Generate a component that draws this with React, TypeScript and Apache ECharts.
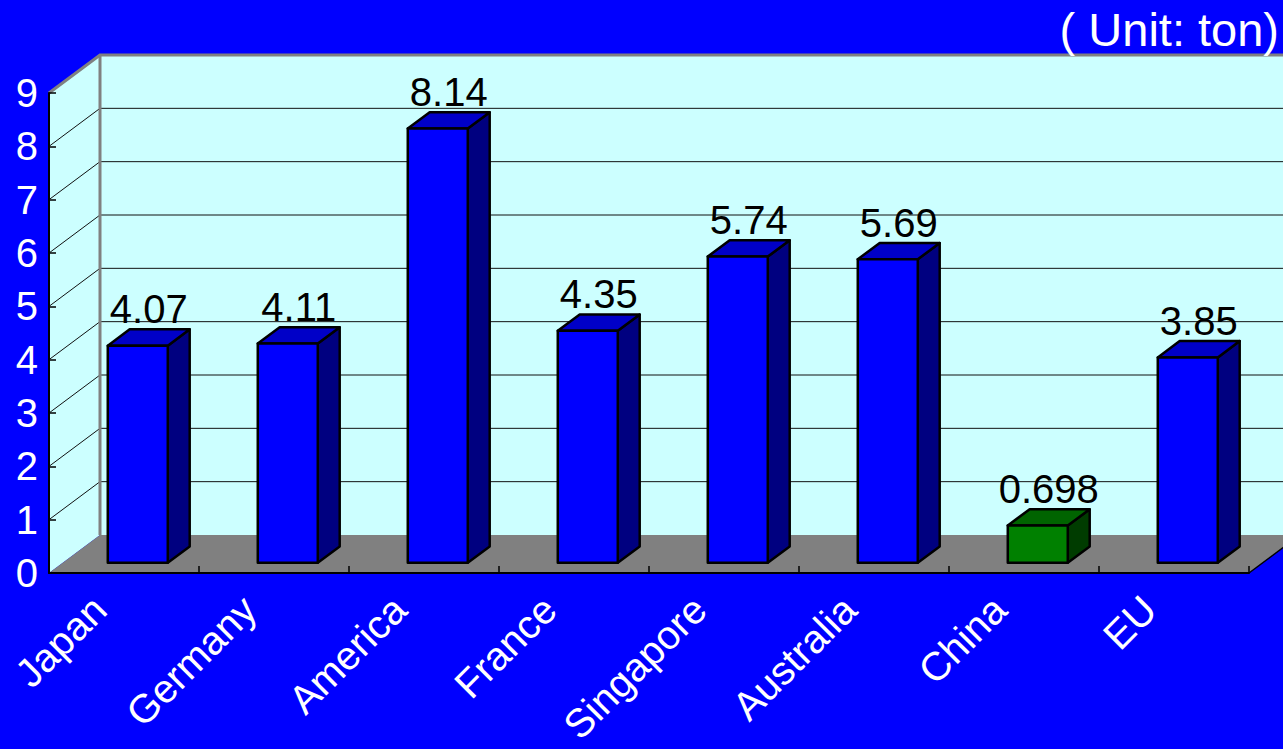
import React, { useEffect, useRef } from "react";
import * as echarts from "echarts";

const categories = ["Japan", "Germany", "America", "France", "Singapore", "Australia", "China", "EU"];
const values = [4.07, 4.11, 8.14, 4.35, 5.74, 5.69, 0.698, 3.85];
const yTicks = [0, 1, 2, 3, 4, 5, 6, 7, 8, 9];
const unitLabel = "( Unit: ton)";
const highlighted = "China";

const DX = 51;
const DY = -38;
const F0 = 0.27;
const F1 = 0.7;
const FONT = "'Liberation Sans', Arial, sans-serif";

export default function App() {
  const ref = useRef<HTMLDivElement>(null);
  useEffect(() => {
    const chart = echarts.init(ref.current!, null, { renderer: "svg" });
    const yMin = yTicks[0];
    const yMax = yTicks[yTicks.length - 1];

    const wallRender = (params: any, api: any) => {
      const bw = api.size([1, 0])[0];
      const first = api.coord([0, yMin]);
      const last = api.coord([categories.length - 1, yMin]);
      const x0 = first[0] - bw / 2;
      const x1 = last[0] + bw / 2;
      const y0 = first[1];
      const yT = api.coord([0, yMax])[1];
      const children: any[] = [];
      children.push({
        type: "polygon",
        shape: { points: [[x0 + DX, y0 + DY], [x1 + DX, y0 + DY], [x1 + DX, yT + DY], [x0 + DX, yT + DY]] },
        style: { fill: "#CCFFFF" },
      });
      children.push({
        type: "polygon",
        shape: { points: [[x0, y0], [x0 + DX, y0 + DY], [x0 + DX, yT + DY], [x0, yT]] },
        style: { fill: "#CCFFFF" },
      });
      children.push({
        type: "polygon",
        shape: { points: [[x0, y0], [x1, y0], [x1 + DX, y0 + DY], [x0 + DX, y0 + DY]] },
        style: { fill: "#808080" },
      });
      children.push({
        type: "line",
        shape: { x1: x1, y1: y0, x2: x1 + DX, y2: y0 + DY },
        style: { stroke: "#000", lineWidth: 1.5 },
      });
      yTicks.forEach((t) => {
        if (t === yMin || t === yMax) return;
        const y = api.coord([0, t])[1];
        children.push({
          type: "polyline",
          shape: { points: [[x0, y], [x0 + DX, y + DY], [x1 + DX, y + DY]] },
          style: { stroke: "#111", lineWidth: 1, fill: null },
        });
      });
      children.push({
        type: "polyline",
        shape: { points: [[x0, yT], [x0 + DX, yT + DY], [x1 + DX, yT + DY]] },
        style: { stroke: "#808080", lineWidth: 3, fill: null },
      });
      children.push({
        type: "line",
        shape: { x1: x0 + DX, y1: y0 + DY, x2: x0 + DX, y2: yT + DY },
        style: { stroke: "#808080", lineWidth: 3 },
      });
      return { type: "group", children };
    };

    const barRender = (params: any, api: any) => {
      const i = params.dataIndex;
      const v = values[i];
      const bw = api.size([1, 0])[0];
      const base = api.coord([i, 0]);
      const top = api.coord([i, v]);
      const w = bw * 0.4;
      const xL = base[0] - w / 2 + DX * F0;
      const xR = xL + w;
      const yB = base[1] + DY * F0;
      const yT = top[1] + DY * F0;
      const ox = DX * (F1 - F0);
      const oy = DY * (F1 - F0);
      const hl = categories[i] === highlighted;
      const pal = hl ? ["#008000", "#006400", "#003C00"] : ["#0000FF", "#0000C8", "#000080"];
      const st = { stroke: "#000", lineWidth: 2.5, lineJoin: "round" };
      return {
        type: "group",
        children: [
          {
            type: "polygon",
            shape: { points: [[xR, yB], [xR + ox, yB + oy], [xR + ox, yT + oy], [xR, yT]] },
            style: { ...st, fill: pal[2] },
          },
          {
            type: "polygon",
            shape: { points: [[xL, yT], [xR, yT], [xR + ox, yT + oy], [xL + ox, yT + oy]] },
            style: { ...st, fill: pal[1] },
          },
          {
            type: "polygon",
            shape: { points: [[xL, yB], [xR, yB], [xR, yT], [xL, yT]] },
            style: { ...st, fill: pal[0] },
          },
          {
            type: "text",
            x: (xL + xR) / 2 + ox / 2,
            y: yT + oy - 20,
            style: {
              text: String(v),
              fill: "#000",
              fontSize: 40,
              fontFamily: FONT,
              align: "center",
              verticalAlign: "middle",
            },
          },
        ],
      };
    };

    chart.setOption({
      animation: false,
      backgroundColor: "#0000FF",
      title: {
        text: unitLabel,
        right: 4,
        top: 6,
        padding: 0,
        textStyle: { color: "#fff", fontSize: 47, fontWeight: "normal", fontFamily: FONT },
      },
      grid: { left: 49, right: 34, top: 93, bottom: 176, containLabel: false, outerBoundsMode: "none" },
      xAxis: {
        type: "category",
        data: categories,
        z: 5,
        axisLine: { show: true, lineStyle: { color: "#000", width: 2 } },
        axisTick: { show: true, inside: true, length: 7, lineStyle: { color: "#000", width: 1.5 } },
        axisLabel: {
          rotate: 45,
          interval: 0,
          color: "#fff",
          fontSize: 40,
          fontFamily: FONT,
          margin: 5,
          padding: [0, 35, 0, 0],
        },
        splitLine: { show: false },
      },
      yAxis: {
        type: "value",
        min: yMin,
        max: yMax,
        interval: 1,
        z: 5,
        axisLine: { show: true, lineStyle: { color: "#000", width: 2 } },
        axisTick: { show: true, inside: true, length: 7, lineStyle: { color: "#000", width: 1.5 } },
        axisLabel: { color: "#fff", fontSize: 40, fontFamily: FONT, margin: 11 },
        splitLine: { show: false },
      },
      series: [
        { type: "custom", renderItem: wallRender, data: [[0, 0]], z: 1, silent: true },
        { type: "custom", renderItem: barRender, data: values.map((v, i) => [i, v]), z: 3, silent: true },
      ],
    });
    return () => chart.dispose();
  }, []);
  return <div ref={ref} style={{ position: "absolute", left: 0, top: 0, width: 1283, height: 749 }} />;
}
